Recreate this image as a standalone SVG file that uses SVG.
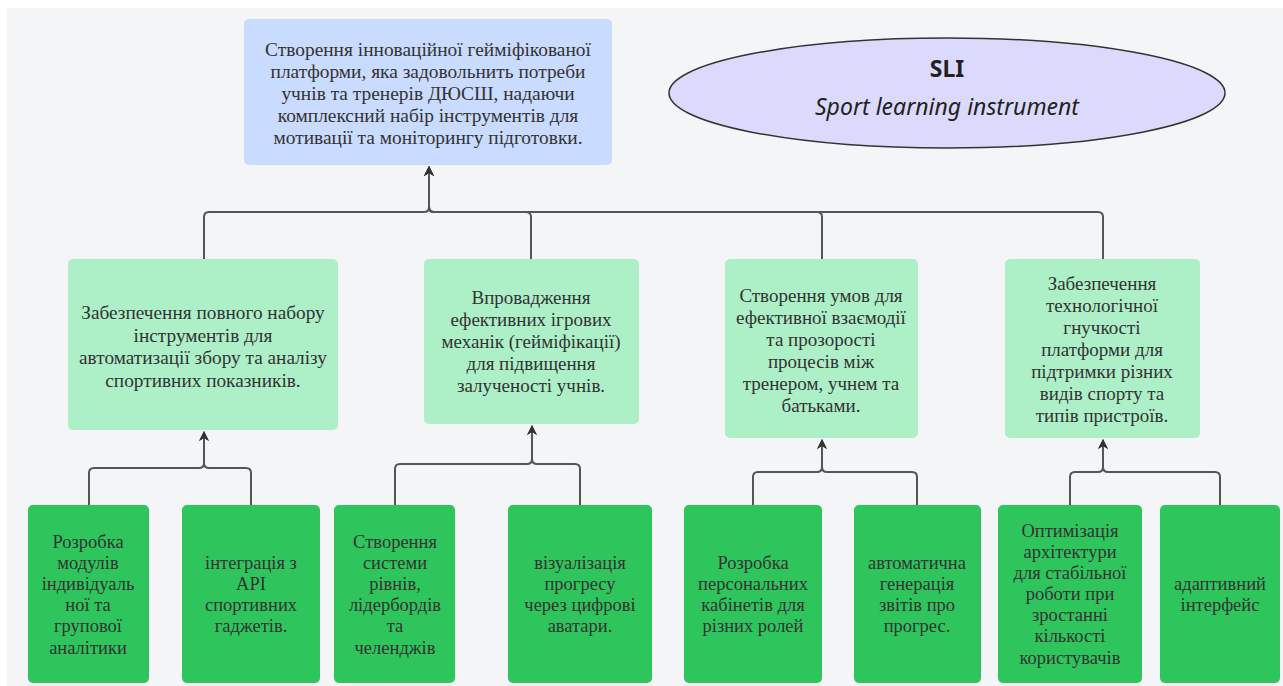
<svg xmlns="http://www.w3.org/2000/svg" width="1283" height="686" viewBox="0 0 1283 686">
<defs>
<marker id="arr" viewBox="0 0 10 10" refX="9" refY="5" markerWidth="10" markerHeight="10" markerUnits="userSpaceOnUse" orient="auto">
<path d="M0,0 L10,5 L0,10 L3,5 Z" fill="#333"/>
</marker>
<style>
.root{fill:#c9dbfe;}
.m{fill:#adf0c8;}
.b{fill:#2ec55c;}
.c{fill:none;stroke:#555;stroke-width:2;}
</style>
</defs>
<rect x="0" y="0" width="1283" height="686" fill="#ffffff"/>
<rect x="7" y="8" width="1276" height="678" fill="#f4f5f7"/>

<g id="connectors">
<path class="c" d="M204,259 V217 Q204,212 209,212 H424 Q429,212 429,207 V167" marker-end="url(#arr)"/>
<path class="c" d="M531,259 V217 Q531,212 526,212 H434 Q429,212 429,207 V167" marker-end="url(#arr)"/>
<path class="c" d="M822,259 V217 Q822,212 817,212 H434 Q429,212 429,207 V167" marker-end="url(#arr)"/>
<path class="c" d="M1103,259 V217 Q1103,212 1098,212 H434 Q429,212 429,207 V167" marker-end="url(#arr)"/>
<path class="c" d="M89,505 V473 Q89,468 94,468 H199 Q204,468 204,463 V432" marker-end="url(#arr)"/>
<path class="c" d="M251,505 V473 Q251,468 246,468 H209 Q204,468 204,463 V432" marker-end="url(#arr)"/>
<path class="c" d="M395,505 V469 Q395,464 400,464 H527 Q532,464 532,459 V426" marker-end="url(#arr)"/>
<path class="c" d="M580,505 V469 Q580,464 575,464 H537 Q532,464 532,459 V426" marker-end="url(#arr)"/>
<path class="c" d="M753,505 V477 Q753,472 758,472 H817 Q822,472 822,467 V440" marker-end="url(#arr)"/>
<path class="c" d="M917,505 V477 Q917,472 912,472 H827 Q822,472 822,467 V440" marker-end="url(#arr)"/>
<path class="c" d="M1070,505 V477 Q1070,472 1075,472 H1098 Q1103,472 1103,467 V440" marker-end="url(#arr)"/>
<path class="c" d="M1220,505 V477 Q1220,472 1215,472 H1108 Q1103,472 1103,467 V440" marker-end="url(#arr)"/>
</g>

<g font-family="'Liberation Serif','DejaVu Serif',serif" fill="#333" text-anchor="middle">
<g id="root" font-size="19.4">
<rect class="root" x="244" y="19" width="368" height="146" rx="5"/>
<text x="428" y="56">Створення інноваційної гейміфікованої</text>
<text x="428" y="78">платформи, яка задовольнить потреби</text>
<text x="428" y="100">учнів та тренерів ДЮСШ, надаючи</text>
<text x="428" y="122">комплексний набір інструментів для</text>
<text x="428" y="144">мотивації та моніторингу підготовки.</text>
</g>

<g id="goal1" font-size="19.3">
<rect class="m" x="68" y="259" width="270" height="171" rx="5"/>
<text x="203" y="319">Забезпечення повного набору</text>
<text x="203" y="342">інструментів для</text>
<text x="203" y="364">автоматизації збору та аналізу</text>
<text x="203" y="387">спортивних показників.</text>
</g>

<g id="goal2" font-size="19">
<rect class="m" x="424" y="259" width="215" height="165" rx="5"/>
<text x="531" y="304">Впровадження</text>
<text x="531" y="326">ефективних ігрових</text>
<text x="531" y="348">механік (гейміфікації)</text>
<text x="531" y="370">для підвищення</text>
<text x="531" y="392">залученості учнів.</text>
</g>

<g id="goal3" font-size="19">
<rect class="m" x="725" y="259" width="193" height="179" rx="5"/>
<text x="821" y="302">Створення умов для</text>
<text x="821" y="324">ефективної взаємодії</text>
<text x="821" y="346">та прозорості</text>
<text x="821" y="368">процесів між</text>
<text x="821" y="390">тренером, учнем та</text>
<text x="821" y="412">батьками.</text>
</g>

<g id="goal4" font-size="19">
<rect class="m" x="1005" y="259" width="195" height="179" rx="5"/>
<text x="1102" y="290">Забезпечення</text>
<text x="1102" y="312">технологічної</text>
<text x="1102" y="334">гнучкості</text>
<text x="1102" y="356">платформи для</text>
<text x="1102" y="378">підтримки різних</text>
<text x="1102" y="400">видів спорту та</text>
<text x="1102" y="422">типів пристроїв.</text>
</g>

<g id="task1" font-size="18.5">
<rect class="b" x="28" y="505" width="121" height="178" rx="5"/>
<text x="88" y="548">Розробка</text>
<text x="88" y="569">модулів</text>
<text x="88" y="590">індивідуаль</text>
<text x="88" y="611">ної та</text>
<text x="88" y="632">групової</text>
<text x="88" y="654">аналітики</text>
</g>

<g id="task2" font-size="18.5">
<rect class="b" x="182" y="505" width="138" height="178" rx="5"/>
<text x="251" y="569">інтеграція з</text>
<text x="251" y="590">API</text>
<text x="251" y="611">спортивних</text>
<text x="251" y="632">гаджетів.</text>
</g>

<g id="task3" font-size="18.5">
<rect class="b" x="334" y="505" width="121" height="178" rx="5"/>
<text x="395" y="548">Створення</text>
<text x="395" y="569">системи</text>
<text x="395" y="590">рівнів,</text>
<text x="395" y="611">лідербордів</text>
<text x="395" y="632">та</text>
<text x="395" y="654">челенджів</text>
</g>

<g id="task4" font-size="18.5">
<rect class="b" x="508" y="505" width="144" height="178" rx="5"/>
<text x="580" y="569">візуалізація</text>
<text x="580" y="590">прогресу</text>
<text x="580" y="611">через цифрові</text>
<text x="580" y="632">аватари.</text>
</g>

<g id="task5" font-size="18.5">
<rect class="b" x="684" y="505" width="138" height="178" rx="5"/>
<text x="753" y="569">Розробка</text>
<text x="753" y="590">персональних</text>
<text x="753" y="611">кабінетів для</text>
<text x="753" y="632">різних ролей</text>
</g>

<g id="task6" font-size="18.5">
<rect class="b" x="854" y="505" width="127" height="178" rx="5"/>
<text x="917" y="569">автоматична</text>
<text x="917" y="590">генерація</text>
<text x="917" y="611">звітів про</text>
<text x="917" y="632">прогрес.</text>
</g>

<g id="task7" font-size="18.5">
<rect class="b" x="998" y="505" width="144" height="178" rx="5"/>
<text x="1070" y="537">Оптимізація</text>
<text x="1070" y="558">архітектури</text>
<text x="1070" y="579">для стабільної</text>
<text x="1070" y="600">роботи при</text>
<text x="1070" y="621">зростанні</text>
<text x="1070" y="642">кількості</text>
<text x="1070" y="664">користувачів</text>
</g>

<g id="task8" font-size="18.5">
<rect class="b" x="1160" y="505" width="120" height="178" rx="5"/>
<text x="1220" y="590">адаптивний</text>
<text x="1220" y="611">інтерфейс</text>
</g>
</g>

<g id="sli">
<ellipse cx="947" cy="93" rx="278" ry="55" fill="#dcdafc" stroke="#333" stroke-width="1.5"/>
<text x="947" y="77" font-family="'Noto Sans','Open Sans',sans-serif" font-size="23" font-weight="bold" fill="#222" text-anchor="middle">SLI</text>
<text x="947" y="115" font-family="'Noto Sans','Open Sans',sans-serif" font-size="23" font-style="italic" fill="#222" text-anchor="middle">Sport learning instrument</text>
</g>
</svg>
